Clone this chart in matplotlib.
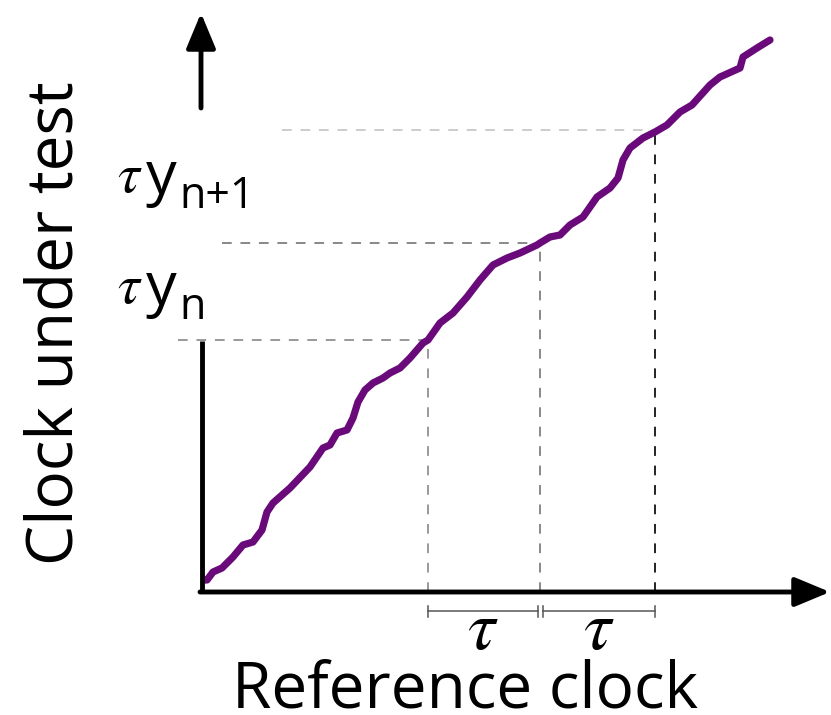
import matplotlib.pyplot as plt

plt.rcParams['font.family'] = ['Open Sans', 'DejaVu Sans']
plt.rcParams['mathtext.fontset'] = 'stix'

# Curve: reference clock vs. clock under test (pixel-ish units, origin at axis corner)
ref_clock = [2, 4, 10, 19, 30, 40, 50, 59, 64, 70, 87, 107, 120, 127, 134, 144, 150, 155,
             162, 170, 180, 187, 197, 207, 220, 225, 237, 250, 264, 277, 290, 304, 317,
             334, 337, 347, 357, 367, 380, 394, 407, 415, 420, 427, 440, 452, 464, 477,
             489, 507, 517, 537, 540, 554, 567]
test_clock = [12, 12, 20, 24, 35, 47, 50, 62, 80, 89, 104, 125, 144, 147, 159, 162, 174, 190,
              202, 209, 214, 219, 224, 234, 249, 252, 269, 279, 295, 312, 327, 334, 339,
              347, 349, 355, 357, 367, 375, 395, 404, 414, 432, 444, 454, 460, 467, 480,
              487, 507, 515, 524, 535, 544, 552]

# Sampling instants on the reference clock and the matching readings
t_marks = [225, 337, 452]
y_marks = [252, 349, 462]
h_start = [-25, 19, 79]
h_colors = ['#999999', '#888888', '#cccccc']
v_colors = ['#999999', '#888888', '#222222']

fig = plt.figure(figsize=(8.31, 7.15), dpi=100)
ax = fig.add_axes([0, 0, 1, 1])
ax.set_xlim(-203, 628)
ax.set_ylim(-123, 592)
ax.axis('off')

# dashed guide lines
for t, y, x0, hc, vc in zip(t_marks, y_marks, h_start, h_colors, v_colors):
    ax.plot([x0, t], [y, y], color=hc, lw=1.4, dashes=(5, 4.5))
    ax.plot([t, t], [0, y], color=vc, lw=1.4, dashes=(5, 5))

# curve
ax.plot(ref_clock, test_clock, color='#6a0a7a', lw=5.2, solid_capstyle='round',
        solid_joinstyle='round')

# axes with arrows
arrow = dict(arrowstyle='-|>,head_length=1.08,head_width=0.45', color='k', lw=3.5,
             mutation_scale=20, shrinkA=0, shrinkB=0)
ax.annotate('', xy=(627, 0), xytext=(-3, 0), arrowprops=arrow)
ax.annotate('', xy=(-2, 579), xytext=(-2, 484), arrowprops=arrow)
ax.plot([-1, -1], [0, 251], color='k', lw=3.5, solid_capstyle='butt')

# tau brackets below the axis
for a, b in [(t_marks[0], t_marks[1] - 2), (t_marks[1] + 3, t_marks[2])]:
    ax.plot([a, b], [-19, -19], color='#555555', lw=1.1)
    for e in (a, b):
        ax.plot([e, e], [-14, -25], color='#555555', lw=1.1)
    ax.text((a + b) / 2, -57, r'$\tau$', fontsize=50, ha='center', va='baseline')

# y labels
for yb, sub in [(398, 'n+1'), (287, 'n')]:
    ax.text(-60, yb + 2, r'$\tau$', fontsize=40, ha='right', va='baseline')
    ax.text(-57, yb, 'y', fontsize=44, ha='left', va='baseline')
    ax.text(-24, yb - 14, sub, fontsize=31, ha='left', va='baseline')

ax.text(262, -116, 'Reference clock', fontsize=46, ha='center', va='baseline')
ax.text(-147, 269, 'Clock under test', fontsize=46, ha='center', va='center',
        rotation=90)

fig.savefig('out.png', dpi=100)
